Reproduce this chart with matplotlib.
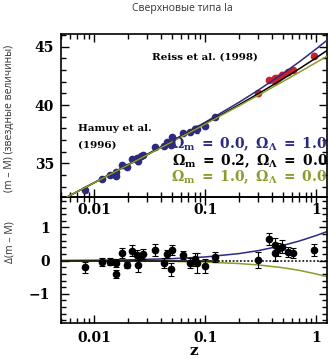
import matplotlib
matplotlib.use("Agg")
import matplotlib.pyplot as plt
from matplotlib.ticker import FixedLocator, MultipleLocator, LogLocator, NullFormatter

plt.rcParams["mathtext.fontset"] = "dejavuserif"

# low-z sample (Hamuy et al. 1996)
z_low = [0.0082, 0.0117, 0.0138, 0.0157, 0.0157, 0.0179, 0.0198, 0.0220,
         0.0241, 0.0246, 0.0263, 0.0276, 0.0352, 0.0427, 0.0449, 0.0491,
         0.0505, 0.0634, 0.0728, 0.0807, 0.0834, 0.0990, 0.1220]
mu_low = [32.70, 33.64, 34.00, 34.23, 33.91, 34.82, 34.69, 35.35,
          35.42, 35.17, 35.59, 35.74, 36.41, 36.45, 36.83, 36.56,
          37.21, 37.56, 37.64, 37.97, 37.93, 38.23, 38.99]
dmu_low = [-0.20, -0.03, -0.03, -0.08, -0.40, 0.22, -0.13, 0.30,
           0.17, -0.13, 0.14, 0.19, 0.32, -0.06, 0.20, -0.26,
           0.32, 0.17, -0.06, 0.04, -0.08, -0.16, 0.12]
err_low = [0.17, 0.12, 0.10, 0.12, 0.12, 0.15, 0.10, 0.17,
           0.15, 0.22, 0.10, 0.15, 0.17, 0.15, 0.12, 0.20,
           0.14, 0.12, 0.15, 0.20, 0.30, 0.22, 0.15]

# high-z sample (Riess et al. 1998)
z_high = [0.300, 0.377, 0.425, 0.425, 0.455, 0.488, 0.560, 0.612, 0.953]
mu_high = [40.99, 42.18, 42.30, 42.05, 42.34, 42.60, 42.80, 43.00, 44.25]
dmu_high = [0.02, 0.65, 0.47, 0.22, 0.34, 0.42, 0.27, 0.24, 0.32]
err_high = [0.25, 0.18, 0.20, 0.22, 0.20, 0.20, 0.15, 0.15, 0.18]

# model curves
z_model = [0.005, 0.01, 0.02, 0.05, 0.1, 0.2, 0.3, 0.5, 0.7, 1.0, 1.25]
mu_lam = [31.83, 33.34, 34.87, 36.92, 38.53, 40.22, 41.28, 42.70, 43.70, 44.83, 45.57]
mu_open = [31.82, 33.33, 34.845, 36.863, 38.414, 40.009, 40.973, 42.237, 43.106, 44.066, 44.687]
mu_flat = [31.82, 33.33, 34.84, 36.84, 38.37, 39.92, 40.84, 42.02, 42.81, 43.66, 44.20]
d_lam = [0.006, 0.012, 0.024, 0.059, 0.112, 0.212, 0.302, 0.459, 0.591, 0.759, 0.878]
d_flat = [-0.002, -0.004, -0.009, -0.022, -0.044, -0.087, -0.130, -0.213, -0.292, -0.402, -0.487]

zero_solid_z = [0.005, 0.13]
zero_dot_z = [0.13, 1.25]

xticks = [0.01, 0.1, 1]
xtick_labels = ["0.01", "0.1", "1"]

navy = "#2c2a80"
olive = "#8c9c2c"
red = "#c8202c"

tickfont = dict(family="DejaVu Serif", weight="bold", size=10)


def style_axis(ax, ypad):
    ax.set_xscale("log")
    ax.set_xlim(0.005, 1.26)
    ax.xaxis.set_major_locator(FixedLocator(xticks))
    ax.xaxis.set_minor_locator(LogLocator(base=10, subs=range(2, 10)))
    ax.xaxis.set_minor_formatter(NullFormatter())
    ax.tick_params(which="both", direction="in", top=True, right=True,
                   width=1.0)
    ax.tick_params(which="major", length=6)
    ax.tick_params(which="minor", length=3.5)
    ax.tick_params(axis="y", pad=ypad)
    for s in ax.spines.values():
        s.set_linewidth(1.2)


fig = plt.figure(figsize=(3.29, 3.59), dpi=100)

ax1 = fig.add_axes([0.1854, 0.4513, 0.8100, 0.4540])
ax2 = fig.add_axes([0.1854, 0.1003, 0.8100, 0.3510])
ax1.set_zorder(2)
ax1.patch.set_alpha(0)

# upper panel
style_axis(ax1, 5)
ax1.set_ylim(32.1, 46.1)
ax1.yaxis.set_major_locator(FixedLocator([35, 40, 45]))
ax1.yaxis.set_minor_locator(MultipleLocator(1))
ax1.set_xticklabels(xtick_labels, fontdict=tickfont)
ax1.set_yticklabels(["35", "40", "45"], fontdict=tickfont)
ax1.tick_params(axis="x", pad=4)

ax1.errorbar(z_low, mu_low, yerr=err_low, fmt="o", ms=4.5, color=navy,
             elinewidth=0.8, capsize=1.5, zorder=3)
ax1.errorbar(z_high, mu_high, yerr=err_high, fmt="o", ms=4.5, color=red,
             elinewidth=0.8, capsize=1.5, zorder=3)
ax1.plot(z_model, mu_lam, color=navy, lw=1.1, zorder=4)
ax1.plot(z_model, mu_open, color="black", lw=1.1, zorder=4)
ax1.plot(z_model, mu_flat, color=olive, lw=1.1, zorder=4)

ax1.text(0.34, 0.859, "Reiss et al. (1998)", transform=ax1.transAxes,
         family="DejaVu Serif", weight="bold", fontsize=7.5, va="center")
ax1.text(0.064, 0.423, "Hamuy et al.", transform=ax1.transAxes,
         family="DejaVu Serif", weight="bold", fontsize=7.5, va="center")
ax1.text(0.064, 0.319, "(1996)", transform=ax1.transAxes,
         family="DejaVu Serif", weight="bold", fontsize=7.5, va="center")

legend_rows = [
    (r"$\mathbf{\Omega_m\ =\ 0.0,\ \Omega_\Lambda\ =\ 1.0}$", navy, 0.325),
    (r"$\mathbf{\Omega_m\ =\ 0.2,\ \Omega_\Lambda\ =\ 0.0}$", "black", 0.222),
    (r"$\mathbf{\Omega_m\ =\ 1.0,\ \Omega_\Lambda\ =\ 0.0}$", olive, 0.122),
]
for txt, col, yy in legend_rows:
    ax1.text(1.0, yy, txt, transform=ax1.transAxes, color=col,
             fontsize=10, ha="right", va="center", zorder=5)

# lower panel
style_axis(ax2, 8)
ax2.set_ylim(-1.88, 1.92)
ax2.yaxis.set_major_locator(FixedLocator([-1, 0, 1]))
ax2.yaxis.set_minor_locator(MultipleLocator(0.2))
ax2.set_xticklabels(xtick_labels, fontdict=tickfont)
ax2.set_yticklabels(["\u22121", "0", "1"], fontdict=tickfont)
ax2.tick_params(axis="x", pad=6)

ax2.plot(z_model, d_lam, color=navy, lw=1.1, zorder=2)
ax2.plot(z_model, d_flat, color=olive, lw=1.1, zorder=2)
ax2.plot(zero_solid_z, [0, 0], color="black", lw=1.1, zorder=2.5)
ax2.plot(zero_dot_z, [0, 0], color="black", lw=1.1, ls=(0, (1.2, 1.2)),
         zorder=2.5)
ax2.errorbar(z_low + z_high, dmu_low + dmu_high, yerr=err_low + err_high,
             fmt="o", ms=4.5, color="black", elinewidth=0.8, capsize=2,
             capthick=0.8, zorder=3)
ax2.set_xlabel("z", family="DejaVu Serif", weight="bold", fontsize=11,
               labelpad=-1)

fig.text(0.553, 0.975, "Сверхновые типа Ia", family="Open Sans",
         fontsize=7.5, color="#333333", ha="center", va="center")
fig.text(0.03, 0.671, "(m – M) (звездные величины)", family="Open Sans",
         fontsize=7.5, color="#333333", rotation=90, ha="center", va="center")
fig.text(0.03, 0.326, "Δ(m – M)", family="Open Sans",
         fontsize=7.5, color="#333333", rotation=90, ha="center", va="center")

fig.savefig("out.png", dpi=100)
